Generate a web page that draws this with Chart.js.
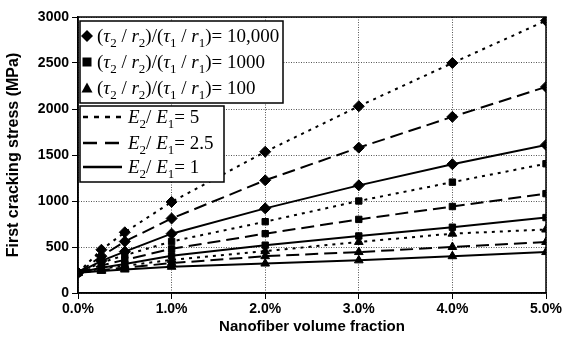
<!DOCTYPE html>
<html>
<head>
<meta charset="utf-8">
<script src="https://cdn.jsdelivr.net/npm/chart.js@4.4.0/dist/chart.umd.min.js"></script>
<style>
  html, body { margin: 0; padding: 0; background: #fff; }
  #wrap { width: 564px; height: 341px; }
</style>
</head>
<body>
<div id="wrap"><canvas id="chart"></canvas></div>
<script>
// nanofiber volume fraction (%)
const volumeFraction = [0, 0.25, 0.5, 1, 2, 3, 4, 5];

// first cracking stress (MPa), marker = strength ratio, line = E2/E1
const diamondE5 = [220, 470, 660, 990, 1535, 2030, 2500, 2960];
const diamondE25 = [220, 400, 560, 810, 1225, 1580, 1915, 2240];
const diamondE1 = [220, 350, 450, 645, 920, 1170, 1400, 1610];
const squareE5 = [220, 330, 410, 560, 775, 1000, 1205, 1405];
const squareE25 = [220, 300, 360, 480, 645, 800, 940, 1080];
const squareE1 = [220, 275, 315, 405, 520, 620, 715, 820];
const triangleE5 = [220, 265, 295, 360, 455, 555, 645, 690];
const triangleE25 = [220, 250, 275, 325, 400, 445, 500, 555];
const triangleE1 = [220, 240, 255, 285, 320, 355, 400, 445];

const xTicks = [0, 1, 2, 3, 4, 5];
const yTicks = [0, 500, 1000, 1500, 2000, 2500, 3000];

const sans = '"Liberation Sans", Arial, sans-serif';
const serif = '"Liberation Serif", "Times New Roman", serif';

const dotted = [3, 5];
const dashed = [13, 6];

function series(values, marker, dash, size) {
  return {
    data: values.map((v, i) => ({ x: volumeFraction[i], y: v })),
    borderColor: '#000',
    backgroundColor: '#000',
    borderWidth: 2,
    borderDash: dash,
    pointStyle: marker,
    pointRadius: size,
    pointBorderWidth: 1,
    tension: 0,
    fill: false,
  };
}

let dataSet = [
  series(diamondE5, 'rectRot', dotted, 5.5),
  series(diamondE25, 'rectRot', dashed, 5.5),
  series(diamondE1, 'rectRot', [], 5.5),
  series(squareE5, 'rect', dotted, 4.5),
  series(squareE25, 'rect', dashed, 4.5),
  series(squareE1, 'rect', [], 4.5),
  series(triangleE5, 'triangle', dotted, 5),
  series(triangleE25, 'triangle', dashed, 5),
  series(triangleE1, 'triangle', [], 5),
];

// draw text with italic letters and subscripts
function richText(ctx, parts, x, y, size) {
  parts.forEach(function (p) {
    const s = p.sub ? Math.round(size * 0.7) : size;
    ctx.font = (p.it ? 'italic ' : '') + s + 'px ' + serif;
    ctx.fillText(p.t, x, y + (p.sub ? size * 0.28 : 0));
    x += ctx.measureText(p.t).width;
  });
}

function ratioText(value) {
  return [
    { t: '(' }, { t: 'τ', it: true }, { t: '2', sub: true }, { t: ' / ' },
    { t: 'r', it: true }, { t: '2', sub: true }, { t: ')/(' },
    { t: 'τ', it: true }, { t: '1', sub: true }, { t: ' / ' },
    { t: 'r', it: true }, { t: '1', sub: true }, { t: ')= ' + value },
  ];
}

function modulusText(value) {
  return [
    { t: 'E', it: true }, { t: '2', sub: true }, { t: '/ ' },
    { t: 'E', it: true }, { t: '1', sub: true }, { t: '= ' + value },
  ];
}

function marker(ctx, style, x, y) {
  ctx.beginPath();
  if (style === 'rectRot') {
    ctx.moveTo(x, y - 6); ctx.lineTo(x + 6, y); ctx.lineTo(x, y + 6); ctx.lineTo(x - 6, y);
  } else if (style === 'rect') {
    ctx.rect(x - 4.5, y - 4.5, 9, 9);
  } else {
    ctx.moveTo(x, y - 5.5); ctx.lineTo(x + 5.5, y + 4.5); ctx.lineTo(x - 5.5, y + 4.5);
  }
  ctx.closePath();
  ctx.fill();
}

const legendBoxes = {
  id: 'legendBoxes',
  afterDraw(chart) {
    const ctx = chart.ctx;
    const a = chart.chartArea;
    ctx.save();
    // plot frame
    ctx.strokeStyle = '#000';
    ctx.lineWidth = 1.5;
    ctx.strokeRect(a.left, a.top, a.right - a.left, a.bottom - a.top);

    // marker legend
    ctx.fillStyle = '#fff';
    ctx.fillRect(80, 21, 203, 82);
    ctx.strokeRect(80, 21, 203, 82);
    ctx.fillStyle = '#000';
    ctx.textBaseline = 'alphabetic';
    const rows1 = [
      ['rectRot', '10,000', 36],
      ['rect', '1000', 62],
      ['triangle', '100', 88],
    ];
    rows1.forEach(function (r) {
      marker(ctx, r[0], 87, r[2]);
      richText(ctx, ratioText(r[1]), 97, r[2] + 6, 19);
    });

    // line style legend
    ctx.fillStyle = '#fff';
    ctx.fillRect(80, 106, 144, 76);
    ctx.strokeRect(80, 106, 144, 76);
    ctx.fillStyle = '#000';
    const rows2 = [
      [[5, 6], '5', 117],
      [[14, 8], '2.5', 143],
      [[], '1', 167],
    ];
    rows2.forEach(function (r) {
      ctx.setLineDash(r[0]);
      ctx.lineWidth = 2.5;
      ctx.beginPath();
      ctx.moveTo(83, r[2]);
      ctx.lineTo(122, r[2]);
      ctx.stroke();
      ctx.setLineDash([]);
      richText(ctx, modulusText(r[1]), 128, r[2] + 6, 19);
    });
    ctx.restore();
  },
};

new Chart(document.getElementById('chart'), {
  type: 'line',
  data: { datasets: dataSet },
  plugins: [legendBoxes],
  options: {
    responsive: true,
    maintainAspectRatio: false,
    animation: false,
    layout: { padding: { top: 17, right: 18, left: 0, bottom: 0 } },
    plugins: { legend: { display: false }, tooltip: { enabled: false } },
    scales: {
      x: {
        type: 'linear',
        min: 0,
        max: 5,
        afterBuildTicks: (s) => { s.ticks = xTicks.map((v) => ({ value: v })); },
        afterFit: (s) => { s.height = 48; },
        ticks: {
          color: '#000',
          padding: 2,
          font: { family: sans, size: 14, weight: 'bold' },
          callback: (v) => v.toFixed(1) + '%',
        },
        grid: { color: '#555', tickColor: '#000', tickLength: 6, lineWidth: 1 },
        border: { color: '#000', width: 1.5, dash: [1, 1.5] },
        title: {
          display: true,
          text: 'Nanofiber volume fraction',
          color: '#000',
          font: { family: sans, size: 15, weight: 'bold' },
          padding: { top: 0, bottom: 5 },
        },
      },
      y: {
        min: 0,
        max: 3000,
        afterBuildTicks: (s) => { s.ticks = yTicks.map((v) => ({ value: v })); },
        afterFit: (s) => { s.width = 78; },
        ticks: {
          color: '#000',
          padding: 3,
          font: { family: sans, size: 14, weight: 'bold' },
          callback: (v) => String(v),
        },
        grid: { color: '#555', tickColor: '#000', tickLength: 6, lineWidth: 1 },
        border: { color: '#000', width: 1.5, dash: [1, 1.5] },
        title: {
          display: true,
          text: 'First cracking stress (MPa)',
          color: '#000',
          font: { family: sans, size: 16, weight: 'bold' },
          padding: { top: 4, bottom: 0 },
        },
      },
    },
  },
});
</script>
</body>
</html>
